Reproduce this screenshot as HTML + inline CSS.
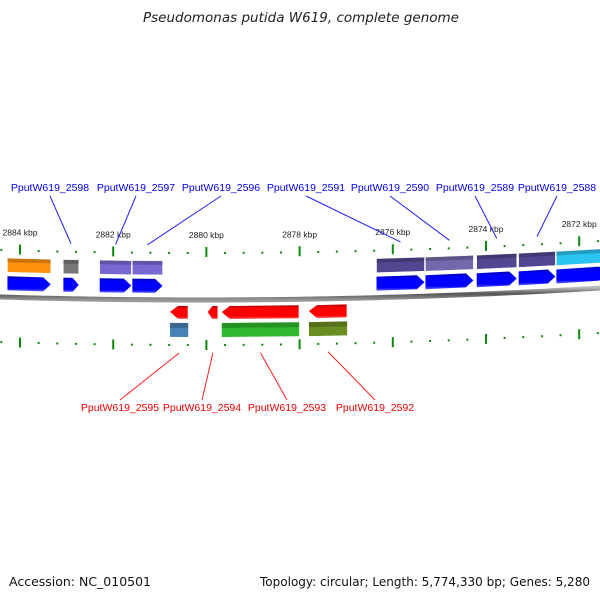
<!DOCTYPE html>
<html><head><meta charset="utf-8"><style>
html,body{margin:0;padding:0;background:#fff;}
svg{display:block;font-family:"Liberation Sans","DejaVu Sans",sans-serif;}
</style></head><body>
<svg id="c" width="600" height="600" viewBox="0 0 600 600" xmlns="http://www.w3.org/2000/svg">
<defs>
<linearGradient id="gBlue" x1="0" y1="0" x2="0" y2="1"><stop offset="0" stop-color="#0000b0"/><stop offset="0.25" stop-color="#0000ff"/><stop offset="0.8" stop-color="#0000ff"/><stop offset="1" stop-color="#6060ff"/></linearGradient>
<linearGradient id="gRed" x1="0" y1="0" x2="0" y2="1"><stop offset="0" stop-color="#b00000"/><stop offset="0.25" stop-color="#ff0000"/><stop offset="0.8" stop-color="#ff0000"/><stop offset="1" stop-color="#ff6060"/></linearGradient>
<linearGradient id="gChrom" x1="0" y1="0" x2="0" y2="1"><stop offset="0" stop-color="#bbb"/><stop offset="0.5" stop-color="#555"/><stop offset="1" stop-color="#999"/></linearGradient>
</defs>
<text x="143" y="22" font-size="13" font-style="italic" fill="#222" textLength="316" lengthAdjust="spacingAndGlyphs" style="font-family:'DejaVu Sans',sans-serif">Pseudomonas putida W619, complete genome</text>
<text x="9" y="586" font-size="12" fill="#111" textLength="142" lengthAdjust="spacingAndGlyphs" style="font-family:'DejaVu Sans',sans-serif">Accession: NC_010501</text>
<text x="260" y="586" font-size="12" fill="#111" textLength="330" lengthAdjust="spacingAndGlyphs" style="font-family:'DejaVu Sans',sans-serif">Topology: circular; Length: 5,774,330 bp; Genes: 5,280</text>
<g id="layer"></g>
</svg>
<script>
const tickKbp = [2884, 2882, 2880, 2878, 2876, 2874, 2872];
const tickLabels = ["2884 kbp","2882 kbp","2880 kbp","2878 kbp","2876 kbp","2874 kbp","2872 kbp"];
const fwdStart = [2884.28, 2883.08, 2882.30, 2881.60, 2876.36, 2875.31, 2874.21, 2873.31, 2872.50];
const fwdEnd   = [2883.33, 2882.73, 2881.60, 2880.93, 2875.31, 2874.26, 2873.33, 2872.50, 2871.40];
const fwdColor = ["#ff8c00","#707070","#7060d0","#7060d0","#483d8b","#6a62a8","#483d8b","#483d8b","#20c0f0"];
const fwdNames = ["","PputW619_2598","PputW619_2597","PputW619_2596","PputW619_2591","PputW619_2590","PputW619_2589","PputW619_2588",""];
const fwdLabelX = [0, 50, 136, 221, 306, 390, 475, 557, 0];
const revStart = [2880.78, 2879.97, 2879.67, 2877.80];
const revEnd   = [2880.39, 2879.75, 2878.01, 2876.98];
const revColor = ["#4682b4", null, "#2eb82e", "#6b8e23"];
const revNames = ["PputW619_2595","PputW619_2594","PputW619_2593","PputW619_2592"];
const revLabelX = [120, 202, 287, 375];

const NS="http://www.w3.org/2000/svg";
const L=document.getElementById('layer');
function X(k){return 20+(2884-k)*46.6;}
function A(x){return 297+0.03*x-0.000075*x*x;}
function mk(tag,attrs,parent){const e=document.createElementNS(NS,tag);for(const k in attrs)e.setAttribute(k,attrs[k]);(parent||L).appendChild(e);return e;}

let d="";for(let x=-5;x<=605;x+=5){d+=(x===-5?"M":"L")+x+","+A(x).toFixed(2);}
const ch=mk('path',{d:d,stroke:"url(#gChrom)","stroke-width":5,fill:"none"});



for(let k=2885.2;k>=2871;k-=0.4){
  const kk=Math.round(k*10)/10;const x=X(kk);if(x<-2||x>602)continue;
  const major=Math.abs(kk-Math.round(kk))<0.01&&Math.round(kk)%2===0;
  const a=A(x);
  const t1=mk('line',{x1:x,x2:x,y1:a-(major?53:48),y2:a-(major?43:46),stroke:"#0a8a0a","stroke-width":2});
  
  
  const t2=mk('line',{x1:x,x2:x,y1:a+(major?40:44),y2:a+(major?50:46),stroke:"#0a8a0a","stroke-width":2});
  
  
}
tickKbp.forEach((k,i)=>{
  const x=X(k);
  const t=mk('text',{x:x,y:A(x)-62,"text-anchor":"middle","font-size":8.5,fill:"#222"});
  t.textContent=tickLabels[i];
  
  
});

fwdStart.forEach((s,i)=>{
  const x1=X(s),x2=X(fwdEnd[i]);const a1=A(x1),a2=A(x2);
  const box=mk('polygon',{points:`${x1+0.5},${a1-39} ${x2-0.5},${a2-39} ${x2-0.5},${a2-25} ${x1+0.5},${a1-25}`,fill:fwdColor[i],stroke:"#fff","stroke-width":0.5,opacity:0.95});
  
  
  const stripe=mk('polygon',{points:`${x1+0.5},${a1-39} ${x2-0.5},${a2-39} ${x2-0.5},${a2-35} ${x1+0.5},${a1-35}`,fill:"#000",opacity:0.2});
  
  
  const h=Math.min(8,(x2-x1)*0.4);
  const ar=mk('polygon',{points:`${x1+0.5},${a1-21} ${x2-h},${a2-21} ${x2-0.5},${a2-14} ${x2-h},${a2-7} ${x1+0.5},${a1-7}`,fill:"url(#gBlue)"});
  
  
  if(fwdNames[i]){
    const tx=fwdLabelX[i];const gx=(x1+x2)/2;
    const ln=mk('line',{x1:tx,y1:196,x2:gx,y2:A(gx)-55,stroke:"#2020ff","stroke-width":1});
    
    
    const t=mk('text',{x:tx,y:191,"text-anchor":"middle","font-size":10.5,fill:"#0000ee"});
    t.textContent=fwdNames[i];
    
    
  }
});

revStart.forEach((s,i)=>{
  const x1=X(s),x2=X(revEnd[i]);const a1=A(x1),a2=A(x2);
  const h=Math.min(8,(x2-x1)*0.45);
  const ar=mk('polygon',{points:`${x1},${a1+12} ${x1+h},${a1+6} ${x2-0.5},${a2+6} ${x2-0.5},${a2+19} ${x1+h},${a1+19}`,fill:"url(#gRed)"});
  
  
  if(revColor[i]){
    const box=mk('polygon',{points:`${x1},${a1+23} ${x2},${a2+23} ${x2},${a2+37} ${x1},${a1+37}`,fill:revColor[i]});
    
    
    const stripe=mk('polygon',{points:`${x1},${a1+23} ${x2},${a2+23} ${x2},${a2+28} ${x1},${a1+28}`,fill:"#000",opacity:0.2});
    
    
  }
  const gx=(x1+x2)/2;const tx=revLabelX[i];
  const ln=mk('line',{x1:gx,y1:A(gx)+53,x2:tx,y2:400,stroke:"#ff2020","stroke-width":1});
  
  
  const t=mk('text',{x:tx,y:411,"text-anchor":"middle","font-size":10.5,fill:"#ee0000"});
  t.textContent=revNames[i];
  
  
});
</script>
</body></html>
